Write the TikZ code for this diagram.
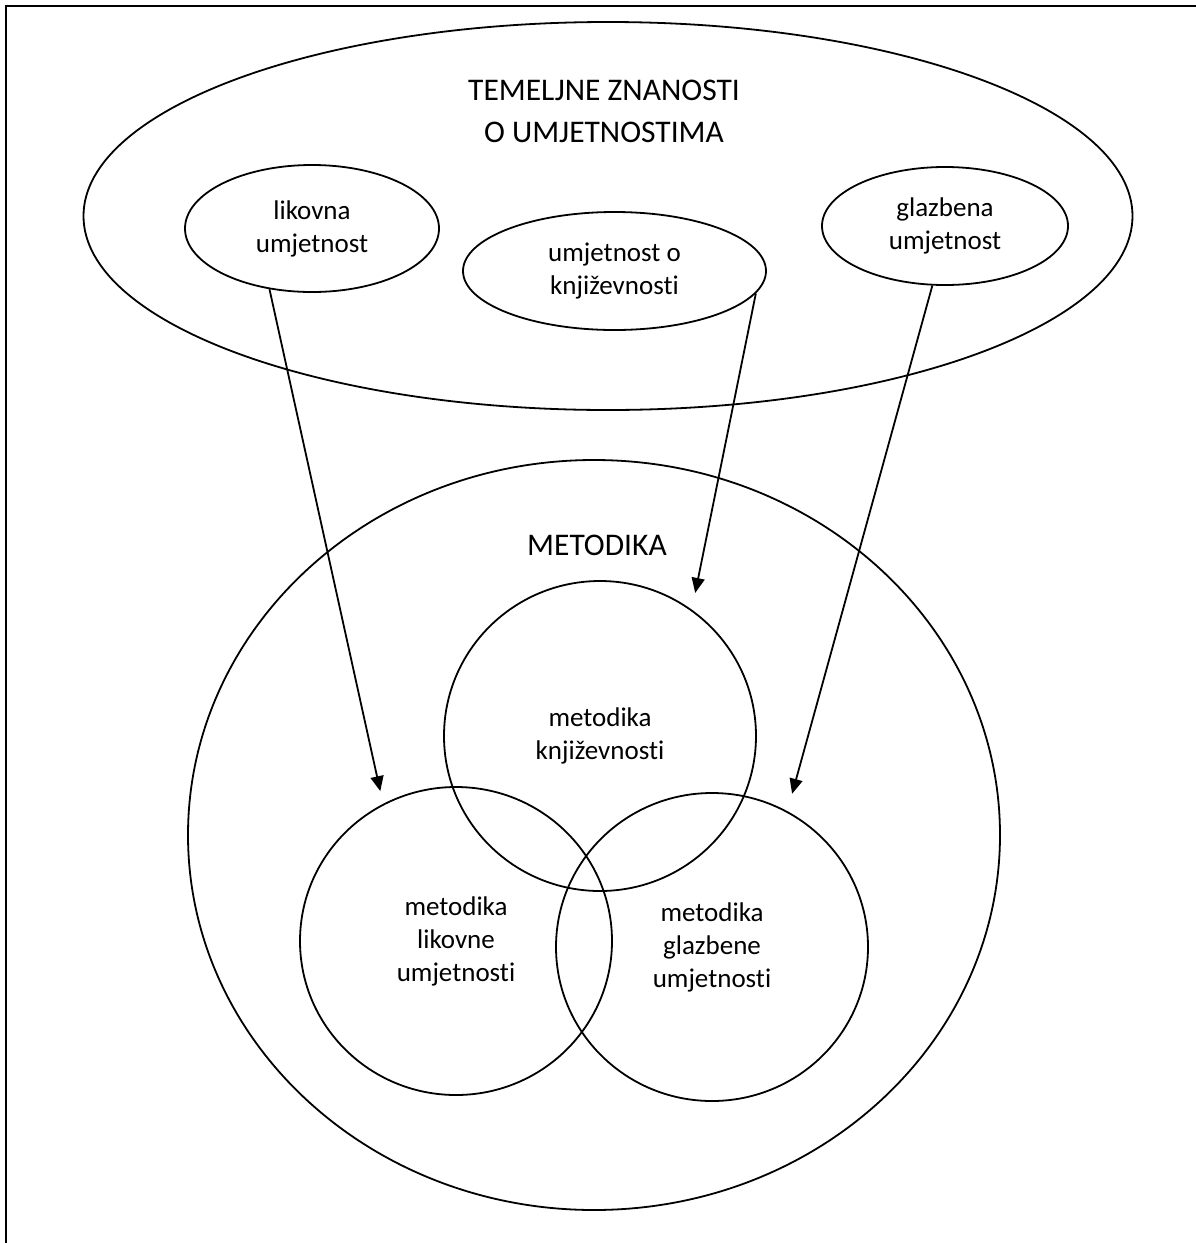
\documentclass[tikz,border=0pt]{standalone}
\usepackage{fontspec}
\setmainfont{Carlito}[Ligatures=CommonOff]
\usetikzlibrary{shapes.geometric,arrows.meta}
\begin{document}
\begin{tikzpicture}[x=1pt,y=-1pt,
  every node/.style={font=\fontsize{27}{33}\selectfont},
  oval/.style={draw, ellipse, line width=1.8pt, inner sep=0pt, align=center},
  label/.style={align=center, inner sep=0pt},
  big/.style={font=\fontsize{31.5}{42}\selectfont},
  link/.style={line width=1.8pt, -{Triangle[length=15pt,width=13pt]}},
  frame/.style={line width=2.4pt}]
\useasboundingbox (0,0) rectangle (1196,1243);
\draw[frame] (6,1243) -- (6,6) -- (1196,6);
% top ellipse
\node[oval, minimum width=1049pt, minimum height=388pt] (top) at (608,216) {};
\node[label, big] (title1) at (604,90.5) {TEMELJNE ZNANOSTI};
\node[label, big] (title2) at (604,132.5) {O UMJETNOSTIMA};
\node[oval, minimum width=254pt, minimum height=127pt] (lik) at (312,228.5) {likovna\\umjetnost};
\node[oval, minimum width=303pt, minimum height=118pt] (kn) at (614.5,271) {umjetnost o\\književnosti};
\node[oval, minimum width=246pt, minimum height=118pt] (gl) at (945,226) {glazbena\\umjetnost};
% bottom circle
\node[oval, minimum width=812pt, minimum height=750pt] (met) at (594,835) {};
\node[label, big] (mettxt) at (597,545) {METODIKA};
\node[oval, minimum width=312pt, minimum height=310pt] (mkn) at (600,736) {metodika\\književnosti};
\node[oval, minimum width=312pt, minimum height=308pt] (mlik) at (456,941) {metodika\\likovne\\umjetnosti};
\node[oval, minimum width=312pt, minimum height=308pt] (mgl) at (712,947) {metodika\\glazbene\\umjetnosti};
% arrows
\draw[link, shorten >=13pt] (lik.235.5) -- (mlik.118.1);
\draw[link, shorten >=17pt] (kn.351.3) -- (mkn.54.7);
\draw[link, shorten >=18pt] (gl.258) -- (mgl.61.4);
\end{tikzpicture}
\end{document}
